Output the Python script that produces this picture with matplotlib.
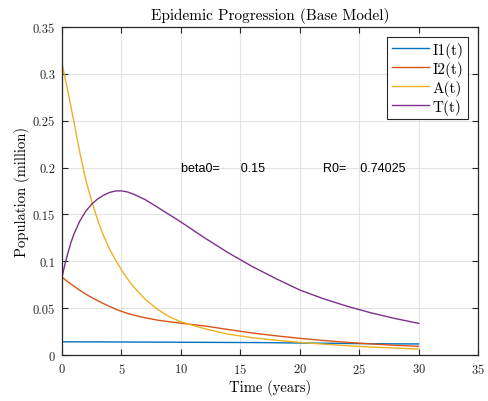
import matplotlib
matplotlib.use("Agg")
import matplotlib.pyplot as plt

# values (million people)
t = [0, 0.25, 0.5, 0.75, 1, 1.5, 2, 2.5, 3, 3.5, 4, 4.5, 5, 5.5, 6,
     7, 8, 9, 10, 12, 14, 16, 18, 20, 22, 24, 26, 28, 30]
I1 = [0.0141, 0.0141, 0.0141, 0.0141, 0.0141, 0.0140, 0.0140, 0.0140, 0.0140, 0.0140,
      0.0139, 0.0139, 0.0139, 0.0139, 0.0138,
      0.0138, 0.0137, 0.0137, 0.0136, 0.0135, 0.0134, 0.0133, 0.0131, 0.0128,
      0.0126, 0.0123, 0.0121, 0.0119, 0.0118]
I2 = [0.083, 0.0805, 0.078, 0.0757, 0.0735, 0.069, 0.065, 0.0613, 0.058, 0.0548,
      0.0518, 0.049, 0.0466, 0.0445, 0.0427,
      0.0397, 0.0373, 0.0355, 0.034, 0.031, 0.0272, 0.0235, 0.0205, 0.0178,
      0.0155, 0.0135, 0.0118, 0.0104, 0.0093]
A = [0.311, 0.296, 0.281, 0.265, 0.249, 0.216, 0.187, 0.164, 0.144, 0.127,
     0.113, 0.1015, 0.091, 0.0815, 0.073,
     0.0595, 0.049, 0.041, 0.0355, 0.028, 0.0222, 0.0185, 0.0158, 0.0135,
     0.0116, 0.0099, 0.0085, 0.0074, 0.0064]
T = [0.083, 0.097, 0.109, 0.120, 0.129, 0.143, 0.1535, 0.161, 0.1665, 0.1705,
     0.1735, 0.1750, 0.1752, 0.1740, 0.1718,
     0.1658, 0.158, 0.150, 0.142, 0.125, 0.109, 0.0945, 0.0815, 0.0694,
     0.060, 0.052, 0.045, 0.039, 0.0338]
names = ['I1(t)', 'I2(t)', 'A(t)', 'T(t)']
colors = ['#0072BD', '#D95319', '#EDB120', '#7E2F8E']

plt.rcParams['font.family'] = 'serif'
plt.rcParams['font.serif'] = ['cmr10']
plt.rcParams['axes.formatter.use_mathtext'] = True
plt.rcParams['mathtext.fontset'] = 'cm'

fig = plt.figure(figsize=(4.89, 4.02), dpi=100)
ax = fig.add_axes([0.1268, 0.1144, 0.8507, 0.8159])

for y, name, c in zip([I1, I2, A, T], names, colors):
    ax.plot(t, y, color=c, lw=1.0, label=name)

ax.set_xlim(0, 35)
ax.set_ylim(0, 0.35)
ax.set_xticks(range(0, 36, 5))
ax.set_yticks([0, 0.05, 0.1, 0.15, 0.2, 0.25, 0.3, 0.35])
ax.set_yticklabels(['0', '0.05', '0.1', '0.15', '0.2', '0.25', '0.3', '0.35'])
ax.grid(True, color='#e3e3e3', lw=0.8)
ax.set_axisbelow(True)
ax.tick_params(direction='in', top=True, right=True, length=4, width=0.8,
               labelsize=9, colors='#262626', pad=5)
for s in ax.spines.values():
    s.set_color('#262626')
    s.set_linewidth(0.9)

ax.set_title('Epidemic Progression (Base Model)', fontsize=11, pad=6)
ax.set_xlabel('Time (years)', fontsize=10.5, labelpad=2)
ax.set_ylabel('Population (million)', fontsize=10.5, labelpad=2)

ax.text(10, 0.2, 'beta0=      0.15', family='Liberation Sans', fontsize=9, va='center')
ax.text(22, 0.2, 'R0=    0.74025', family='Liberation Sans', fontsize=9, va='center')

leg = ax.legend(loc='upper right', fontsize=11, handlelength=2.45, handletextpad=0.2,
                borderpad=0.3, labelspacing=0.2, fancybox=False, framealpha=1,
                borderaxespad=0.65)
leg.get_frame().set_edgecolor('#262626')
leg.get_frame().set_linewidth(0.8)

fig.savefig('out.png', dpi=100)
